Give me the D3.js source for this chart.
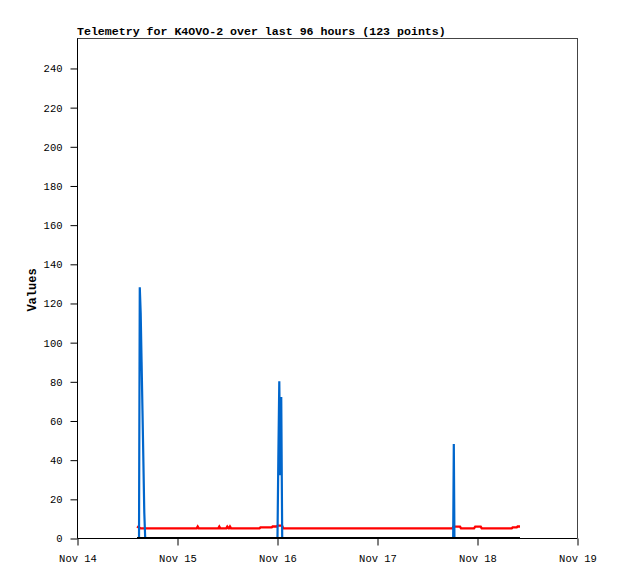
<!DOCTYPE html>
<html>
<head>
<meta charset="utf-8">
<script src="https://cdn.jsdelivr.net/npm/d3@7"></script>
<style>
  html, body { margin: 0; padding: 0; background: #fff; }
  svg { display: block; }
</style>
</head>
<body>
<svg id="chart" width="618" height="579"></svg>
<script>
// ---- data ----
const titleText = "Telemetry for K4OVO-2 over last 96 hours (123 points)";
const yLabel = "Values";
const yTicks = [0, 20, 40, 60, 80, 100, 120, 140, 160, 180, 200, 220, 240];
const xTickDates = ["2023-11-14", "2023-11-15", "2023-11-16", "2023-11-17", "2023-11-18", "2023-11-19"];

// blue series (time, value)
const blueTimes = ["2023-11-14T14:24", "2023-11-14T14:53", "2023-11-14T15:04", "2023-11-14T15:17",
  "2023-11-14T15:30", "2023-11-14T15:43", "2023-11-14T15:56", "2023-11-14T16:09", "2023-11-14T16:22",
  "2023-11-16T00:07", "2023-11-16T00:19", "2023-11-16T00:33", "2023-11-16T00:47", "2023-11-16T01:01", "2023-11-16T01:15",
  "2023-11-17T18:17", "2023-11-17T18:26", "2023-11-17T18:35", "2023-11-18T10:19"];
const blueValues = [0, 0, 128, 115, 90, 65, 39, 13, 0,
  0, 40, 80, 32, 72, 0,
  0, 48, 0, 0];

// red series (time, value)
const redTimes = ["2023-11-14T14:24", "2023-11-14T15:14", "2023-11-15T04:44", "2023-11-15T04:58",
  "2023-11-15T05:13", "2023-11-15T09:55", "2023-11-15T10:09", "2023-11-15T10:23", "2023-11-15T11:50",
  "2023-11-15T12:04", "2023-11-15T12:22", "2023-11-15T12:29", "2023-11-15T12:43", "2023-11-15T12:58",
  "2023-11-15T19:48", "2023-11-15T20:02", "2023-11-15T22:44", "2023-11-15T22:58", "2023-11-15T23:56",
  "2023-11-16T00:10", "2023-11-16T01:12", "2023-11-16T01:31", "2023-11-17T18:07", "2023-11-17T18:22",
  "2023-11-17T19:55", "2023-11-17T20:10", "2023-11-17T23:17", "2023-11-17T23:35", "2023-11-18T00:53",
  "2023-11-18T01:08", "2023-11-18T08:20", "2023-11-18T08:34", "2023-11-18T09:32", "2023-11-18T09:46",
  "2023-11-18T10:19"];
const redValues = [5.9, 4.9, 4.9, 5.8,
  4.9, 4.9, 5.8, 4.9, 4.9,
  5.8, 4.9, 4.9, 5.8, 4.9,
  4.9, 5.4, 5.4, 5.9, 5.9,
  6.3, 6.3, 4.9, 4.9, 5.8,
  5.8, 4.9, 4.9, 5.8, 5.8,
  4.9, 4.9, 5.4, 5.4, 5.9,
  5.9];

// black series
const blackTimes = ["2023-11-14T14:24", "2023-11-18T10:19"];
const blackValues = [0, 0];

// ---- drawing ----
const svg = d3.select("#chart");
const pLeft = 77, pRight = 577, pTop = 38, pBottom = 538;
const parse = d3.timeParse("%Y-%m-%dT%H:%M");
const parseDay = d3.timeParse("%Y-%m-%d");

const x = d3.scaleTime()
  .domain([parseDay(xTickDates[0]), parseDay(xTickDates[xTickDates.length - 1])])
  .range([pLeft, pRight]);
const y = d3.scaleLinear().domain([0, 255.3]).range([pBottom, pTop]);

const font = "'Liberation Mono', 'DejaVu Sans Mono', monospace";

// title
svg.append("text")
  .attr("x", pLeft).attr("y", 35)
  .attr("font-family", font).attr("font-size", 11.6).attr("font-weight", "bold")
  .attr("fill", "#000")
  .text(titleText);

// y label
svg.append("text")
  .attr("transform", `translate(36,${(pTop + pBottom) / 2 + 2}) rotate(-90)`)
  .attr("text-anchor", "middle")
  .attr("font-family", font).attr("font-size", 12).attr("font-weight", "bold")
  .text(yLabel);

// frame (top/right)
svg.append("line").attr("x1", pLeft).attr("x2", pRight + 0.5).attr("y1", pTop + 0.5).attr("y2", pTop + 0.5)
  .attr("stroke", "#444").attr("stroke-width", 1);
svg.append("line").attr("x1", pRight + 0.5).attr("x2", pRight + 0.5).attr("y1", pTop).attr("y2", pBottom)
  .attr("stroke", "#444").attr("stroke-width", 1);

// y axis
const yAxis = d3.axisLeft(y).tickValues(yTicks).tickSize(7).tickPadding(8).tickFormat(d3.format("d"));
const gy = svg.append("g").attr("transform", `translate(${pLeft + 0.5},0.5)`).call(yAxis);
gy.select(".domain").attr("stroke", "#000").attr("d", `M0,${pTop}V${pBottom}`);
gy.selectAll("text").attr("font-family", font).attr("font-size", 10.5).attr("fill", "#000");

// x axis
const xAxis = d3.axisBottom(x).tickValues(xTickDates.map(parseDay)).tickSize(7).tickPadding(9)
  .tickFormat(d3.timeFormat("%b %d"));
const gx = svg.append("g").attr("transform", `translate(0.5,${pBottom + 0.5})`).call(xAxis);
gx.select(".domain").attr("stroke", "#000").attr("d", `M${pLeft},0H${pRight}`);
gx.selectAll("text").attr("font-family", font).attr("font-size", 10.5).attr("fill", "#000");

// series
const line = d3.line().x(d => x(d.t)).y(d => y(d.v));
function series(times, values) {
  return times.map((t, i) => ({ t: parse(t), v: values[i] }));
}

svg.append("path").datum(series(redTimes, redValues))
  .attr("d", line).attr("fill", "none").attr("stroke", "#ff0000").attr("stroke-width", 2.4);
svg.append("path").datum(series(blueTimes, blueValues))
  .attr("d", line).attr("fill", "none").attr("stroke", "#0066cc").attr("stroke-width", 2.2);
svg.append("path").datum(series(blackTimes, blackValues))
  .attr("d", line).attr("fill", "none").attr("stroke", "#000").attr("stroke-width", 2);
</script>
</body>
</html>
